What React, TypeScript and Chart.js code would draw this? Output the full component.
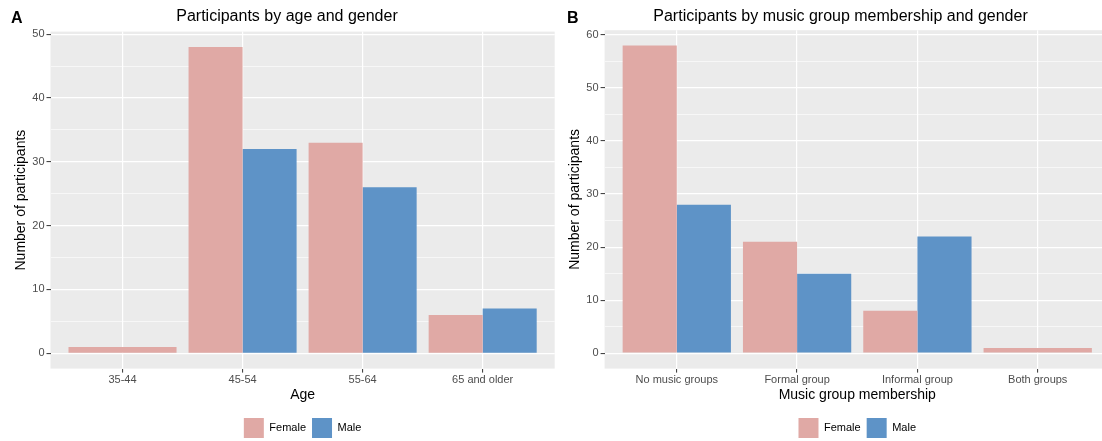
import React, { useEffect, useRef } from 'react';
import { Chart, registerables } from 'chart.js';

Chart.register(...registerables);

// ---------- data ----------
const seriesLabels = ['Female', 'Male'];

const ageCategories = ['35-44', '45-54', '55-64', '65 and older'];
const ageFemale: (number | null)[] = [1, 48, 33, 6];
const ageMale: (number | null)[] = [null, 32, 26, 7];

const musicCategories = ['No music groups', 'Formal group', 'Informal group', 'Both groups'];
const musicFemale: (number | null)[] = [58, 21, 8, 1];
const musicMale: (number | null)[] = [28, 15, 22, null];

const ageMajorTicks = [0, 10, 20, 30, 40, 50];
const musicMajorTicks = [0, 10, 20, 30, 40, 50, 60];

// ---------- style ----------
const FONT = "'Liberation Sans', Arial, Helvetica, sans-serif";
const FEMALE_COLOR = '#E0A9A5';
const MALE_COLOR = '#5E93C7';
const PANEL_BG = '#EBEBEB';
const TICK_TEXT = '#4D4D4D';

const panelDecor = {
  id: 'panelDecor',
  beforeDraw(chart: any) {
    const { ctx, chartArea: a } = chart;
    ctx.save();
    ctx.fillStyle = PANEL_BG;
    ctx.fillRect(a.left, a.top, a.right - a.left, a.bottom - a.top);
    ctx.restore();
  },
  afterDraw(chart: any, _args: any, opts: any) {
    const ctx = chart.ctx;
    ctx.save();
    ctx.fillStyle = '#000000';
    ctx.textBaseline = 'alphabetic';
    ctx.textAlign = 'left';
    ctx.font = `bold 16px ${FONT}`;
    ctx.fillText(opts.tag, opts.tagX, opts.tagY);
    ctx.textAlign = 'center';
    ctx.font = `16px ${FONT}`;
    ctx.fillText(opts.title, opts.titleX, opts.titleY);
    ctx.restore();
  },
};

type Spec = {
  categories: string[];
  female: (number | null)[];
  male: (number | null)[];
  majorTicks: number[];
  xTitle: string;
  title: string;
  tag: string;
  titleX: number;
  yWidth: number;
  yTitlePad: number;
  padRight: number;
  padTop: number;
};

function makeConfig(spec: Spec): any {
  const values = [...spec.female, ...spec.male].filter((v) => v !== null) as number[];
  const top = Math.max(...values);
  const n = spec.categories.length;
  const toPoints = (arr: (number | null)[]) => spec.categories.map((_, i) => ({ x: i + 1, y: arr[i] }));
  const isMajor = (v: number) => spec.majorTicks.includes(v);
  return {
    type: 'bar',
    data: {
      datasets: [
        {
          label: seriesLabels[0],
          data: toPoints(spec.female),
          backgroundColor: FEMALE_COLOR,
          borderWidth: 0,
          skipNull: true,
          categoryPercentage: 0.9,
          barPercentage: 1,
        },
        {
          label: seriesLabels[1],
          data: toPoints(spec.male),
          backgroundColor: MALE_COLOR,
          borderWidth: 0,
          skipNull: true,
          categoryPercentage: 0.9,
          barPercentage: 1,
        },
      ],
    },
    options: {
      responsive: false,
      animation: false,
      devicePixelRatio: 1,
      events: [],
      layout: { padding: { left: 0, right: spec.padRight, top: spec.padTop, bottom: 0 } },
      scales: {
        x: {
          type: 'linear',
          min: 0.4,
          max: n + 0.6,
          offset: false,
          ticks: {
            stepSize: 1,
            autoSkip: false,
            maxRotation: 0,
            minRotation: 0,
            includeBounds: false,
            padding: 1,
            color: TICK_TEXT,
            font: { size: 11, family: FONT },
            callback: (v: number) => spec.categories[Math.round(v) - 1] ?? '',
          },
          grid: {
            color: '#FFFFFF',
            lineWidth: 1.2,
            tickLength: 4,
            tickColor: '#333333',
            tickWidth: 1,
            offset: false,
          },
          border: { display: false },
          title: {
            display: true,
            text: spec.xTitle,
            color: '#000000',
            font: { size: 14, family: FONT },
            padding: { top: 0, bottom: 8.1 },
          },
          afterFit: (s: any) => {
            s.height = 43.4;
          },
        },
        y: {
          type: 'linear',
          min: -0.05 * top,
          max: 1.05 * top,
          ticks: {
            stepSize: 5,
            includeBounds: false,
            padding: 2,
            color: TICK_TEXT,
            font: { size: 11, family: FONT },
            callback: (v: number) => (isMajor(v) ? String(v) : ''),
          },
          grid: {
            color: '#FFFFFF',
            lineWidth: (c: any) => (c.tick && isMajor(c.tick.value) ? 1.2 : 0.6),
            tickLength: 4,
            tickColor: (c: any) => (c.tick && isMajor(c.tick.value) ? '#333333' : 'rgba(0,0,0,0)'),
            tickWidth: 1,
          },
          border: { display: false },
          title: {
            display: true,
            text: 'Number of participants',
            color: '#000000',
            font: { size: 14, family: FONT },
            padding: { top: spec.yTitlePad, bottom: 0 },
          },
          afterFit: (s: any) => {
            s.width = spec.yWidth;
          },
        },
      },
      plugins: {
        legend: {
          position: 'bottom',
          fullSize: false,
          maxHeight: 29,
          labels: {
            boxWidth: 20,
            boxHeight: 20,
            padding: 6,
            color: '#000000',
            font: { size: 11, family: FONT },
          },
        },
        tooltip: { enabled: false },
        title: { display: false },
        panelDecor: {
          tag: spec.tag,
          tagX: 11,
          tagY: 23.3,
          title: spec.title,
          titleX: spec.titleX,
          titleY: 21,
        },
      },
    },
    plugins: [panelDecor],
  };
}

function Panel({ spec, left, width }: { spec: Spec; left: number; width: number }) {
  const ref = useRef<HTMLCanvasElement>(null);
  useEffect(() => {
    if (!ref.current) return;
    const chart = new Chart(ref.current, makeConfig(spec));
    return () => chart.destroy();
  }, [spec]);
  return (
    <canvas
      ref={ref}
      width={width}
      height={441}
      style={{ position: 'absolute', left, top: 0, width, height: 441 }}
    />
  );
}

const ageSpec: Spec = {
  categories: ageCategories,
  female: ageFemale,
  male: ageMale,
  majorTicks: ageMajorTicks,
  xTitle: 'Age',
  title: 'Participants by age and gender',
  tag: 'A',
  titleX: 287,
  yWidth: 50.5,
  yTitlePad: 13.1,
  padRight: 1.3,
  padTop: 31.6,
};

const musicSpec: Spec = {
  categories: musicCategories,
  female: musicFemale,
  male: musicMale,
  majorTicks: musicMajorTicks,
  xTitle: 'Music group membership',
  title: 'Participants by music group membership and gender',
  tag: 'B',
  titleX: 284.5,
  yWidth: 48.6,
  yTitlePad: 11.2,
  padRight: 6.1,
  padTop: 30.2,
};

export default function App() {
  return (
    <div
      style={{
        position: 'absolute',
        left: 0,
        top: 0,
        width: 1102,
        height: 441,
        overflow: 'hidden',
        background: '#FFFFFF',
      }}
    >
      <Panel spec={ageSpec} left={0} width={556} />
      <Panel spec={musicSpec} left={556} width={560} />
    </div>
  );
}
